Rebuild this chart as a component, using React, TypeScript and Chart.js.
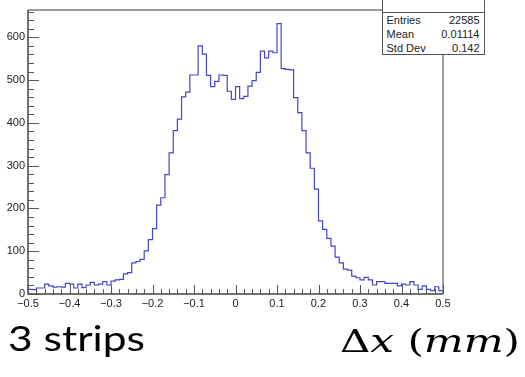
import React, { useEffect, useRef } from "react";
import { Chart, registerables } from "chart.js";

Chart.register(...registerables);

// ---- data ----
const xLow = -0.5;
const xHigh = 0.5;
const binWidth = 0.01;
const counts: number[] = [
  11, 10, 14, 14, 23, 19, 16, 17, 16, 25, 23, 14, 23, 15, 21, 27, 21, 23, 29, 21,
  30, 33, 34, 47, 50, 73, 76, 81, 101, 127, 153, 208, 225, 279, 330,
  382, 409, 461, 472, 512, 512, 580, 561, 511, 485, 497, 512, 511, 474, 455,
  485, 457, 462, 486, 499, 518, 568, 552, 568, 564, 632, 527, 525, 524, 459,
  424, 382, 330, 294, 245, 171, 151, 130, 112, 86, 73, 58, 56, 42, 38,
  33, 39, 33, 21, 29, 29, 25, 25, 25, 19, 23, 21, 29, 21, 11, 19, 11, 8, 17, 8,
];
const yMax = 664;
const xTickStep = 0.1;
const yTickStep = 100;
const minorDivisions = 5;
const statLabels = ["Entries", "Mean", "Std Dev"];
const statValues = ["22585", "0.01114", "0.142"];
const caption = "3 strips";

const tickFont = { family: "'Liberation Sans', Arial, sans-serif", size: 11 };

const formatTick = (v: number) => {
  const s = String(parseFloat(Number(v).toFixed(1)));
  return s.replace("-", "\u2212");
};

const rootAxesPlugin = {
  id: "rootAxes",
  afterDatasetsDraw(chart: any) {
    const { ctx, chartArea: a, scales } = chart;
    const xs = scales.x;
    const ys = scales.y;
    ctx.save();
    // frame (top/right)
    ctx.strokeStyle = "#7c7c7c";
    ctx.lineWidth = 1.5;
    ctx.beginPath();
    ctx.moveTo(a.left, a.top);
    ctx.lineTo(a.right, a.top);
    ctx.lineTo(a.right, a.bottom);
    ctx.stroke();
    // axes
    ctx.strokeStyle = "#444";
    ctx.lineWidth = 1.5;
    ctx.beginPath();
    ctx.moveTo(a.left, a.top);
    ctx.lineTo(a.left, a.bottom);
    ctx.lineTo(a.right, a.bottom);
    ctx.stroke();
    // ticks
    ctx.strokeStyle = "#555";
    ctx.lineWidth = 1;
    ctx.beginPath();
    const yMinor = yTickStep / minorDivisions;
    for (let k = 0; k * yMinor <= yMax + 1e-9; k++) {
      const py = Math.round(ys.getPixelForValue(k * yMinor)) + 0.5;
      const len = k % minorDivisions === 0 ? 11 : 6;
      ctx.moveTo(a.left, py);
      ctx.lineTo(a.left + len, py);
    }
    const xMinor = xTickStep / minorDivisions;
    const n = Math.round((xHigh - xLow) / xMinor);
    for (let k = 0; k <= n; k++) {
      const px = Math.round(xs.getPixelForValue(xLow + k * xMinor)) + 0.5;
      const len = k % minorDivisions === 0 ? 9 : 5;
      ctx.moveTo(px, a.bottom);
      ctx.lineTo(px, a.bottom - len);
    }
    ctx.stroke();
    ctx.restore();
  },
};

export default function App() {
  const canvasRef = useRef<HTMLCanvasElement>(null);
  const captionRef = useRef<HTMLDivElement>(null);
  const unitRef = useRef<HTMLDivElement>(null);

  useEffect(() => {
    const points = counts.map((c, i) => ({ x: xLow + i * binWidth, y: c }));
    points.push({ x: xHigh, y: counts[counts.length - 1] });

    const chart = new Chart(canvasRef.current as HTMLCanvasElement, {
      type: "line",
      data: {
        datasets: [
          {
            data: points,
            stepped: true,
            borderColor: "#4444cc",
            borderWidth: 1.2,
            pointRadius: 0,
            fill: false,
          },
        ],
      },
      options: {
        animation: false,
        responsive: false,
        devicePixelRatio: 1,
        layout: { padding: { left: 0, top: 10, right: 82, bottom: 63 } },
        plugins: { legend: { display: false }, tooltip: { enabled: false } },
        scales: {
          x: {
            type: "linear",
            min: xLow,
            max: xHigh,
            grid: { display: false, drawTicks: false },
            border: { display: false },
            ticks: {
              stepSize: xTickStep,
              autoSkip: false,
              maxRotation: 0,
              padding: 3,
              font: tickFont,
              color: "#222",
              callback: (v: any) => formatTick(Number(v)),
            },
            afterFit: (s: any) => {
              s.height = 20;
            },
          },
          y: {
            type: "linear",
            min: 0,
            max: yMax,
            grid: { display: false, drawTicks: false },
            border: { display: false },
            ticks: {
              stepSize: yTickStep,
              includeBounds: false,
              padding: 3,
              font: tickFont,
              color: "#222",
              callback: (v: any) => String(v),
            },
            afterFit: (s: any) => {
              s.width = 28;
            },
          },
        },
      },
      plugins: [rootAxesPlugin],
    } as any);

    const fit = (el: HTMLDivElement | null, target: number) => {
      if (!el) return;
      el.style.transform = "none";
      const w = el.getBoundingClientRect().width;
      if (w > 0) el.style.transform = `scaleX(${target / w})`;
    };
    const doFit = () => {
      fit(captionRef.current, 137);
      fit(unitRef.current, 180);
    };
    doFit();
    if ((document as any).fonts && (document as any).fonts.ready) {
      (document as any).fonts.ready.then(doFit);
    }

    return () => chart.destroy();
  }, []);

  const statRowTops = [12.6, 26.6, 41.1];

  return (
    <div
      style={{
        position: "absolute",
        left: 0,
        top: 0,
        width: 525,
        height: 377,
        overflow: "hidden",
        background: "#fff",
      }}
    >
      <canvas
        ref={canvasRef}
        width={525}
        height={377}
        style={{ position: "absolute", left: 0, top: 0, width: 525, height: 377 }}
      />
      {/* stats box */}
      <div
        style={{
          position: "absolute",
          left: 382,
          top: -1,
          width: 103,
          height: 56,
          boxSizing: "border-box",
          border: "1px solid #555",
          background: "#fff",
        }}
      />
      <div
        style={{
          position: "absolute",
          left: 382,
          top: 11.5,
          width: 103,
          height: 1,
          background: "#555",
        }}
      />
      {statLabels.map((lab, i) => (
        <div
          key={"l" + i}
          style={{
            position: "absolute",
            left: 386.5,
            top: statRowTops[i],
            fontFamily: "'Liberation Sans', Arial, sans-serif",
            fontSize: 11,
            lineHeight: "14px",
            color: "#222",
            whiteSpace: "nowrap",
          }}
        >
          {lab}
        </div>
      ))}
      {statValues.map((val, i) => (
        <div
          key={"v" + i}
          style={{
            position: "absolute",
            right: 525 - 479.5,
            top: statRowTops[i],
            fontFamily: "'Liberation Sans', Arial, sans-serif",
            fontSize: 11,
            lineHeight: "14px",
            color: "#222",
            whiteSpace: "nowrap",
            textAlign: "right",
          }}
        >
          {val}
        </div>
      ))}
      {/* caption */}
      <div
        ref={captionRef}
        style={{
          position: "absolute",
          left: 8,
          top: 321,
          fontFamily: "Lato, 'Open Sans', sans-serif",
          fontSize: 34,
          lineHeight: "34px",
          color: "#000",
          whiteSpace: "nowrap",
          transformOrigin: "left top",
        }}
      >
        {caption}
      </div>
      {/* axis unit */}
      <div
        ref={unitRef}
        style={{
          position: "absolute",
          left: 340,
          top: 325,
          fontFamily: "'DejaVu Serif', 'Liberation Serif', serif",
          fontSize: 32,
          lineHeight: "32px",
          color: "#000",
          whiteSpace: "nowrap",
          transformOrigin: "left top",
        }}
      >
        {"\u0394"}
        <i>x</i>
        {" ("}
        <i>mm</i>
        {")"}
      </div>
    </div>
  );
}
